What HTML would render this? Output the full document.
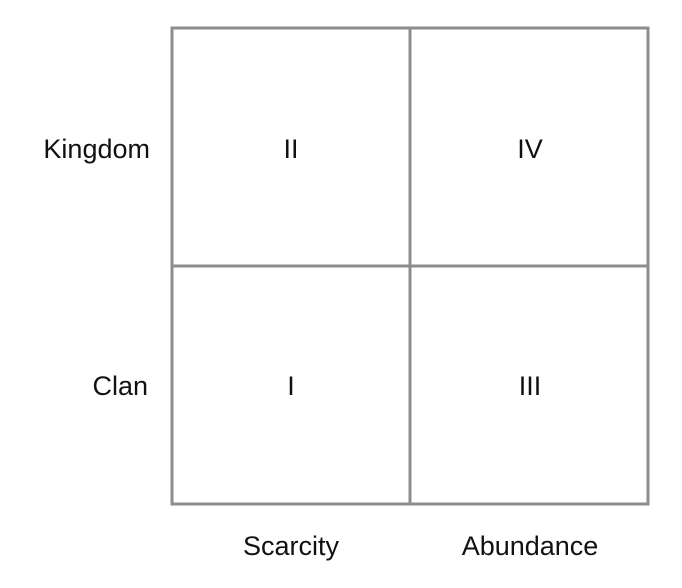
<!DOCTYPE html>
<html><head><style>
html,body{margin:0;padding:0;background:#fff;}
body{width:682px;height:588px;position:relative;overflow:hidden;}
svg{position:absolute;left:0;top:0;}
text{font-family:"Liberation Sans",sans-serif;font-size:27px;fill:#111;}
</style></head><body>
<svg width="682" height="588" viewBox="0 0 682 588">
<g stroke="#8b8d8f" stroke-width="3" fill="none">
<rect x="172" y="28" width="476" height="476"/>
<line x1="410" y1="28" x2="410" y2="504"/>
<line x1="172" y1="266" x2="648" y2="266"/>
</g>
<text x="150" y="158" text-anchor="end">Kingdom</text>
<text x="148" y="395" text-anchor="end">Clan</text>
<text x="291" y="158" text-anchor="middle">II</text>
<text x="530" y="158" text-anchor="middle">IV</text>
<text x="291" y="395" text-anchor="middle">I</text>
<text x="530" y="395" text-anchor="middle">III</text>
<text x="291" y="555" text-anchor="middle">Scarcity</text>
<text x="530" y="555" text-anchor="middle">Abundance</text>
</svg>
</body></html>
